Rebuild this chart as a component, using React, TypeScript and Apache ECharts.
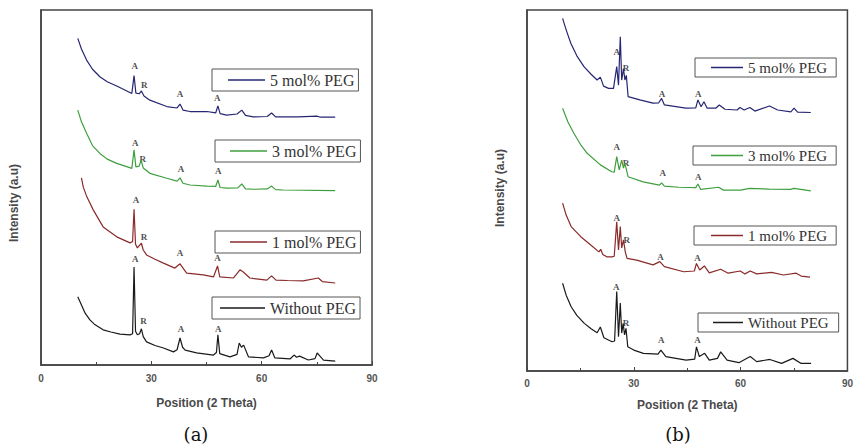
import React, { useEffect, useRef } from "react";
import * as echarts from "echarts";

// ---------- data (2θ in degrees, intensity in arbitrary units, offsets as drawn) ----------
const SERIES_NAMES = ["5 mol% PEG", "3 mol% PEG", "1 mol% PEG", "Without PEG"];
const SERIES_COLORS = ["#262673", "#3f9f3f", "#8a2a2a", "#1a1a1a"];
const X_TICK_INTERVAL = 30;

// Panel (a)
const A_5MOL = [[10,92.0],[11,89.0],[12.4,85.9],[14,83.3],[16,81.2],[18,79.8],[20.6,78.6],[24.7,76.5],[25.3,81.5],[25.8,76.6],[26.7,76.4],[27.3,77.2],[28,75.8],[29.6,74.6],[34.2,72.8],[37.0,72.4],[37.8,73.5],[38.6,71.8],[40.5,71.4],[45.1,71.4],[47.5,71.0],[48.1,73.0],[48.7,70.8],[50.5,70.4],[53.3,70.7],[54.6,71.8],[55.6,70.3],[57.7,69.9],[61.5,70.0],[62.7,71.0],[63.8,69.9],[65.9,69.9],[70,69.9],[75,70.1],[76,69.8],[80,69.8]];
const A_3MOL = [[10,71.8],[11,68.5],[12.4,65.3],[14,61.8],[16,59.6],[18,58.0],[20.6,56.8],[24.7,55.4],[25.3,60.6],[25.8,55.8],[26.7,56.0],[27.2,57.7],[27.8,55.5],[29.6,54.0],[34.2,52.6],[37.0,51.8],[37.8,52.7],[38.6,51.2],[40.5,50.7],[45.1,50.4],[47.5,50.3],[48.1,52.1],[48.7,50.0],[50.5,49.8],[53.5,49.9],[54.6,51.0],[55.6,49.6],[57.7,49.5],[61.5,49.6],[62.7,50.4],[63.8,49.4],[65.9,49.3],[80,49.1]];
const A_1MOL = [[11,52.7],[11.5,50.1],[12.5,47.3],[14.2,43.7],[16.9,38.9],[20.6,36.1],[24.2,34.4],[24.9,34.8],[25.3,43.9],[25.7,34.0],[26.2,33.0],[27.3,34.3],[27.8,32.4],[28.7,31.0],[31,29.8],[33.3,28.7],[36.4,27.3],[37.8,28.5],[39.6,25.9],[44.1,25.4],[46.9,24.8],[48.0,27.9],[48.6,24.8],[52.3,24.5],[54.1,26.8],[55.0,26.2],[56.8,24.5],[61.4,23.9],[62.7,25.1],[63.9,23.9],[67,23.8],[71.3,23.7],[75.4,24.5],[76.5,23.5],[80,23.1]];
const A_WITHOUT = [[10,19.2],[11,16.9],[12,14.6],[13.3,12.7],[14.5,11.5],[16.9,9.9],[19,9.3],[21.5,8.7],[24.2,8.5],[24.9,8.8],[25.3,27.6],[25.7,9.5],[26.2,8.5],[26.8,8.8],[27.3,10.2],[27.8,8.0],[28.7,6.5],[31,5.5],[33.3,4.8],[36,3.7],[37.0,4.3],[37.8,7.6],[38.5,5.0],[39.2,4.2],[42.3,3.4],[46.9,2.8],[47.7,3.5],[48.1,8.5],[48.6,3.2],[51.4,2.3],[53.3,3.0],[53.9,6.2],[54.5,5.0],[55.1,5.6],[56.4,2.3],[60.5,2.0],[62.0,2.6],[62.7,4.2],[63.6,2.0],[67.7,1.7],[68.8,2.8],[69.5,2.2],[70.3,2.5],[72.7,1.4],[74.5,1.8],[75.1,3.4],[76.8,1.4],[80,1.1]];
const A_PEAK_MARKS = [[25.5,84.3,"A"],[28.1,78.9,"R"],[37.8,76.3,"A"],[47.9,75.3,"A"],[25.6,62.6,"A"],[27.7,57.9,"R"],[38.1,55.2,"A"],[48.2,54.6,"A"],[25.8,46.5,"A"],[28.0,36.0,"R"],[37.8,31.5,"A"],[48.0,30.1,"A"],[25.6,29.8,"A"],[27.9,12.4,"R"],[38.1,10.1,"A"],[48.2,10.1,"A"]];

// Panel (b)
const B_5MOL = [[10,97.7],[11,94.5],[12.3,90.8],[14,87.3],[16,84.3],[18,82.2],[19.7,80.6],[20.6,81.4],[21.5,78.9],[22.9,78.3],[24.3,78.3],[25.2,84.3],[25.7,79.2],[26.2,92.6],[26.6,80.6],[27.1,83.8],[27.5,80.6],[27.9,81.9],[28.4,76.0],[31.7,75.1],[35.4,74.2],[37.0,74.3],[37.8,75.5],[38.6,73.7],[44.6,72.8],[47.4,72.9],[48.0,75.1],[48.9,73.2],[49.7,74.6],[50.6,72.8],[53.0,72.8],[54.0,73.7],[55.6,72.5],[59.0,72.3],[59.8,73.0],[61.0,72.3],[62.6,73.0],[64.0,72.0],[68.1,73.4],[70.4,72.3],[74.1,71.8],[75.0,72.8],[76.0,71.7],[79.7,71.6]];
const B_3MOL = [[10,72.8],[11.5,69.0],[13.2,65.8],[15,62.8],[16.9,60.3],[20.6,57.1],[23.8,55.2],[24.5,55.1],[25.2,59.4],[25.9,55.7],[26.6,58.4],[27.1,56.2],[27.5,57.5],[28.4,53.8],[32.6,52.4],[37.2,51.5],[37.8,52.1],[38.6,51.2],[42.7,50.9],[47.4,50.8],[48.0,51.8],[48.8,50.3],[53.8,50.9],[55.2,50.1],[60,50.1],[62.6,50.6],[68,50.4],[74,50.3],[75,50.6],[79.7,49.9]];
const B_1MOL = [[10,46.5],[11,43.2],[12.4,40.0],[15.1,37.2],[17.9,34.9],[20.2,33.0],[20.7,33.7],[21.3,32.3],[22.5,31.6],[23.9,31.6],[24.5,31.8],[25.2,41.3],[25.7,33.5],[26.2,40.0],[26.6,34.1],[27.1,36.3],[27.6,33.0],[28.1,31.2],[30.8,30.7],[35.4,29.4],[37.3,30.3],[38.6,28.9],[44.0,27.5],[47.0,27.7],[47.6,29.8],[48.5,28.0],[49.8,29.1],[51.2,27.2],[54.4,28.2],[56.5,27.1],[59.9,27.7],[61.2,26.9],[62.7,27.7],[64.5,26.9],[68.7,27.3],[72,26.6],[75.6,27.1],[77,26.3],[79.5,26.0]];
const B_WITHOUT = [[10,24.3],[11,21.0],[12.4,17.8],[14,15.4],[16.1,13.2],[18,11.7],[19.7,10.6],[20.6,12.2],[21.6,9.2],[23.9,8.1],[24.6,8.3],[25.2,22.0],[25.7,9.5],[26.2,18.8],[26.6,10.5],[27.0,13.2],[27.4,10.0],[27.8,11.8],[28.3,6.7],[30,5.8],[32.7,4.9],[36.8,4.7],[37.6,5.8],[39.0,4.0],[44.7,3.0],[47.1,3.3],[47.6,6.7],[48.4,4.0],[49.9,4.9],[51.2,3.0],[53.5,3.5],[54.4,5.3],[56.2,3.0],[59.5,2.3],[62.7,4.0],[64.5,2.6],[68.2,3.2],[71.5,2.1],[74.7,3.5],[77.0,2.1],[79.8,2.1]];
const B_PEAK_MARKS = [[25.2,88.4,"A"],[27.8,83.9,"R"],[37.9,76.7,"A"],[48.1,76.7,"A"],[25.2,62.1,"A"],[27.8,57.5,"R"],[38.1,54.9,"A"],[48.1,53.8,"A"],[25.2,42.4,"A"],[28.0,36.3,"R"],[37.5,31.7,"A"],[47.9,31.3,"A"],[25.1,23.4,"A"],[27.8,13.3,"R"],[37.7,8.6,"A"],[47.9,8.6,"A"]];

const PANEL_A = [A_5MOL, A_3MOL, A_1MOL, A_WITHOUT];
const PANEL_B = [B_5MOL, B_3MOL, B_1MOL, B_WITHOUT];

const AXIS_NAME_X = "Position (2 Theta)";
const AXIS_NAME_Y = "Intensity (a.u)";

// ---------- layout ----------
const SANS = "Liberation Sans, Arial, sans-serif";
const SERIF = "Liberation Serif, Times New Roman, serif";

const GRIDS = [
  { left: 41, top: 10, width: 331, height: 355 },
  { left: 527, top: 10, width: 325, height: 361 },
];

// legend boxes: [left, top, padLeft, iconWidth, padRight, fontSize, padV]
const LEGEND_A = [
  [212, 69, 16, 37, 4, 16, 2],
  [215, 140, 15, 37, 4, 16, 2],
  [215, 231, 15, 37, 4, 16, 2],
  [212, 297, 8, 45, 4, 16, 2],
];
const LEGEND_B = [
  [695, 58, 16, 32, 9, 15, 1],
  [693, 146, 18, 32, 9, 15, 1],
  [694, 226, 17, 32, 9, 15, 1],
  [698, 313, 15, 30, 10, 15, 1],
];

function xAxisFor(gridIndex: number, nameGap: number, labelMargin: number) {
  return {
    type: "value",
    gridIndex,
    min: 0,
    max: 90,
    interval: X_TICK_INTERVAL,
    name: AXIS_NAME_X,
    nameLocation: "middle",
    nameGap,
    nameTextStyle: { fontFamily: SANS, fontSize: 12, fontWeight: "bold", color: "#4a4a4a" },
    axisLine: { show: true, lineStyle: { color: "#444", width: 1.5 } },
    axisTick: { show: true, inside: true, length: 4, lineStyle: { color: "#444", width: 1 } },
    minorTick: { show: true, splitNumber: 2, length: 3, lineStyle: { color: "#444", width: 1 } },
    axisLabel: { fontFamily: SANS, fontSize: 10, fontWeight: "bold", color: "#555", margin: labelMargin },
    splitLine: { show: false },
  };
}

function yAxisFor(gridIndex: number) {
  return {
    type: "value",
    gridIndex,
    min: 0,
    max: 100,
    axisLine: { show: true, lineStyle: { color: "#444", width: 1.5 } },
    axisTick: { show: false },
    axisLabel: { show: false },
    splitLine: { show: false },
  };
}

function lineSeries(panel: number[][][], axisIndex: number) {
  return panel.map((data, i) => ({
    type: "line",
    name: SERIES_NAMES[i],
    xAxisIndex: axisIndex,
    yAxisIndex: axisIndex,
    data,
    symbol: "none",
    silent: true,
    lineStyle: { color: SERIES_COLORS[i], width: 1.2 },
    itemStyle: { color: SERIES_COLORS[i] },
  }));
}

function markSeries(marks: any[], axisIndex: number) {
  return {
    type: "scatter",
    xAxisIndex: axisIndex,
    yAxisIndex: axisIndex,
    data: marks,
    symbol: "circle",
    symbolSize: 1,
    silent: true,
    itemStyle: { color: "rgba(0,0,0,0)" },
    label: {
      show: true,
      position: "inside",
      formatter: (p: any) => p.data[2],
      fontFamily: SERIF,
      fontSize: 9,
      fontWeight: "bold",
      color: "#222",
    },
  };
}

function legendsFor(boxes: number[][]) {
  return boxes.map((b, i) => ({
    data: [SERIES_NAMES[i]],
    left: b[0],
    top: b[1],
    orient: "horizontal",
    padding: [b[6], b[4], b[6], b[2]],
    icon: "rect",
    itemWidth: b[3],
    itemHeight: 1.5,
    itemGap: 0,
    selectedMode: false,
    borderColor: "#555",
    borderWidth: 1,
    backgroundColor: "#fff",
    textStyle: { fontFamily: SERIF, fontSize: b[5], color: "#333", lineHeight: b[5] + 2 },
  }));
}

export default function App() {
  const ref = useRef<HTMLDivElement>(null);

  useEffect(() => {
    if (!ref.current) return;
    const chart = echarts.init(ref.current, undefined, { renderer: "svg" });
    const option: any = {
      animation: false,
      backgroundColor: "#fff",
      grid: GRIDS.map((g) => ({ ...g, show: true, borderColor: "#444", borderWidth: 1.5, backgroundColor: "transparent" })),
      xAxis: [xAxisFor(0, 32, 8), xAxisFor(1, 28, 7)],
      yAxis: [yAxisFor(0), yAxisFor(1)],
      legend: [...legendsFor(LEGEND_A), ...legendsFor(LEGEND_B)],
      series: [
        ...lineSeries(PANEL_A, 0),
        ...lineSeries(PANEL_B, 1),
        markSeries(A_PEAK_MARKS, 0),
        markSeries(B_PEAK_MARKS, 1),
      ],
      graphic: [
        {
          type: "text",
          x: 14,
          y: 203,
          rotation: Math.PI / 2,
          style: { text: AXIS_NAME_Y, fontFamily: SANS, fontSize: 12, fontWeight: "bold", fill: "#4a4a4a", align: "center", verticalAlign: "middle" },
        },
        {
          type: "text",
          x: 500,
          y: 188,
          rotation: Math.PI / 2,
          style: { text: AXIS_NAME_Y, fontFamily: SANS, fontSize: 12, fontWeight: "bold", fill: "#4a4a4a", align: "center", verticalAlign: "middle" },
        },
        {
          type: "text",
          x: 196,
          y: 434,
          style: { text: "(a)", fontFamily: "DejaVu Serif, serif", fontSize: 18, fill: "#111", align: "center", verticalAlign: "middle" },
        },
        {
          type: "text",
          x: 678,
          y: 434,
          style: { text: "(b)", fontFamily: "DejaVu Serif, serif", fontSize: 18, fill: "#111", align: "center", verticalAlign: "middle" },
        },
      ],
    };
    chart.setOption(option);
    return () => chart.dispose();
  }, []);

  return (
    <div
      ref={ref}
      style={{ position: "fixed", left: 0, top: 0, width: 856, height: 448, background: "#fff" }}
    />
  );
}
